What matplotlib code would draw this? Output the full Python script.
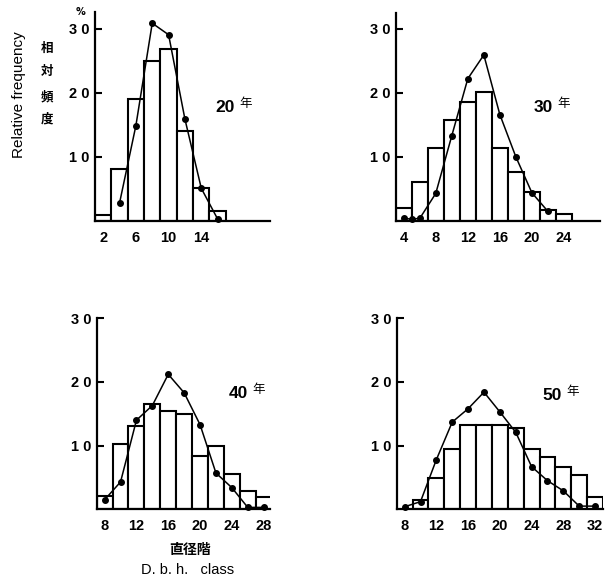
import matplotlib
matplotlib.use("Agg")
import matplotlib.pyplot as plt

W, H = 605, 584

# --- data (relative frequency, %) ---
y20_bar_x = [2, 4, 6, 8, 10, 12, 14, 16]
y20_bar_h = [1.0, 8.1, 19.1, 25.0, 26.9, 14.1, 5.1, 1.6]
y20_line_x = [4, 6, 8, 10, 12, 14, 16]
y20_line_y = [2.8, 14.9, 30.9, 29.1, 15.9, 5.1, 0.3]

y30_bar_x = [4, 6, 8, 10, 12, 14, 16, 18, 20, 22, 24]
y30_bar_h = [2.1, 6.1, 11.4, 15.7, 18.5, 20.1, 11.4, 7.7, 4.6, 1.7, 1.1]
y30_line_x = [4, 5, 6, 8, 10, 12, 14, 16, 18, 20, 22]
y30_line_y = [0.4, 0.3, 0.4, 4.3, 13.3, 22.2, 25.9, 16.6, 10.0, 4.4, 1.5]

y40_bar_x = [8, 10, 12, 14, 16, 18, 20, 22, 24, 26, 28]
y40_bar_h = [2.1, 10.2, 13.1, 16.6, 15.4, 14.9, 8.3, 9.9, 5.5, 2.9, 1.9]
y40_line_x = [8, 10, 12, 14, 16, 18, 20, 22, 24, 26, 28]
y40_line_y = [1.5, 4.3, 14.0, 16.3, 21.2, 18.3, 13.3, 5.7, 3.4, 0.3, 0.3]

y50_bar_x = [10, 12, 14, 16, 18, 20, 22, 24, 26, 28, 30, 32]
y50_bar_h = [1.5, 4.9, 9.4, 13.3, 13.3, 13.3, 12.8, 9.4, 8.2, 6.7, 5.4, 2.0]
y50_line_x = [8, 10, 12, 14, 16, 18, 20, 22, 24, 26, 28, 30, 32]
y50_line_y = [0.4, 1.2, 7.8, 13.7, 15.8, 18.4, 15.3, 12.1, 6.7, 4.5, 2.9, 0.5, 0.5]

y_ticks = [10, 20, 30]
y_ticklabels = ["1 0", "2 0", "3 0"]
x_ticks_20 = [2, 6, 10, 14]
x_ticks_30 = [4, 8, 12, 16, 20, 24]
x_ticks_40 = [8, 12, 16, 20, 24, 28]
x_ticks_50 = [8, 12, 16, 20, 24, 28, 32]

CJK = ["Noto Sans CJK JP", "DejaVu Sans"]

fig = plt.figure(figsize=(W / 100, H / 100), dpi=100)


def px_axes(left, right, top, bottom):
    return fig.add_axes([left / W, 1 - bottom / H, (right - left) / W,
                         (bottom - top) / H])


def panel(box, xlim, ylim, bx, bh, lx, ly, xticks):
    ax = px_axes(*box)
    ax.bar(bx, bh, width=2, facecolor="white", edgecolor="black",
           linewidth=1.5, zorder=2)
    ax.plot(lx, ly, "-o", color="black", linewidth=1.1, markersize=4,
            zorder=3, clip_on=False)
    ax.set_xlim(*xlim)
    ax.set_ylim(*ylim)
    for s in ["top", "right"]:
        ax.spines[s].set_visible(False)
    for s in ["left", "bottom"]:
        ax.spines[s].set_linewidth(1.6)
    ax.set_yticks(y_ticks)
    ax.set_yticklabels(y_ticklabels, family="Liberation Sans",
                       fontweight="bold", fontsize=10.5)
    ax.set_xticks(xticks)
    ax.set_xticklabels([str(t) for t in xticks], family="Liberation Sans",
                       fontweight="bold", fontsize=10.5)
    ax.tick_params(axis="y", direction="in", length=5, width=1.5, pad=4)
    ax.tick_params(axis="x", length=0, pad=7)
    return ax


panel((95, 270, 11.7, 221), (1, 22.4), (0, 32.7),
      y20_bar_x, y20_bar_h, y20_line_x, y20_line_y, x_ticks_20)
panel((395.7, 600, 13.3, 221), (3, 28.5), (0, 32.4),
      y30_bar_x, y30_bar_h, y30_line_x, y30_line_y, x_ticks_30)
panel((96.7, 270, 318.3, 509.3), (7, 28.8), (0, 30),
      y40_bar_x, y40_bar_h, y40_line_x, y40_line_y, x_ticks_40)
panel((396.7, 603, 318.3, 509.3), (7, 33), (0, 30),
      y50_bar_x, y50_bar_h, y50_line_x, y50_line_y, x_ticks_50)


def ftext(x, y, s, **kw):
    fig.text(x / W, 1 - y / H, s, **kw)


# panel labels
for num, x, y in [("20", 225, 108), ("30", 543, 108),
                  ("40", 238, 394), ("50", 552, 395)]:
    ftext(x, y, num, ha="center", va="center", fontsize=12.5,
          fontweight="bold", family="Liberation Sans")
    ftext(x + 14, y - 4, "年", ha="left", va="center", fontsize=9,
          family=CJK)

# y-axis titles
ftext(80, 12, "%", ha="center", va="center", fontsize=7, fontweight="bold")
ftext(19, 95, "Relative frequency", rotation=90, ha="center", va="center",
      fontsize=11, family="Liberation Sans")
for ch, y in zip("相対頻度", [48, 72, 97, 119]):
    ftext(47, y, ch, ha="center", va="center", fontsize=9,
          fontweight="bold", family=CJK)

# x-axis titles
ftext(190, 550, "直径階", ha="center", va="center", fontsize=10,
      fontweight="bold", family=CJK)
ftext(188, 570, "D. b. h.   class", ha="center", va="center", fontsize=10.5,
      family="Liberation Sans")

fig.savefig("out.png", dpi=100)
